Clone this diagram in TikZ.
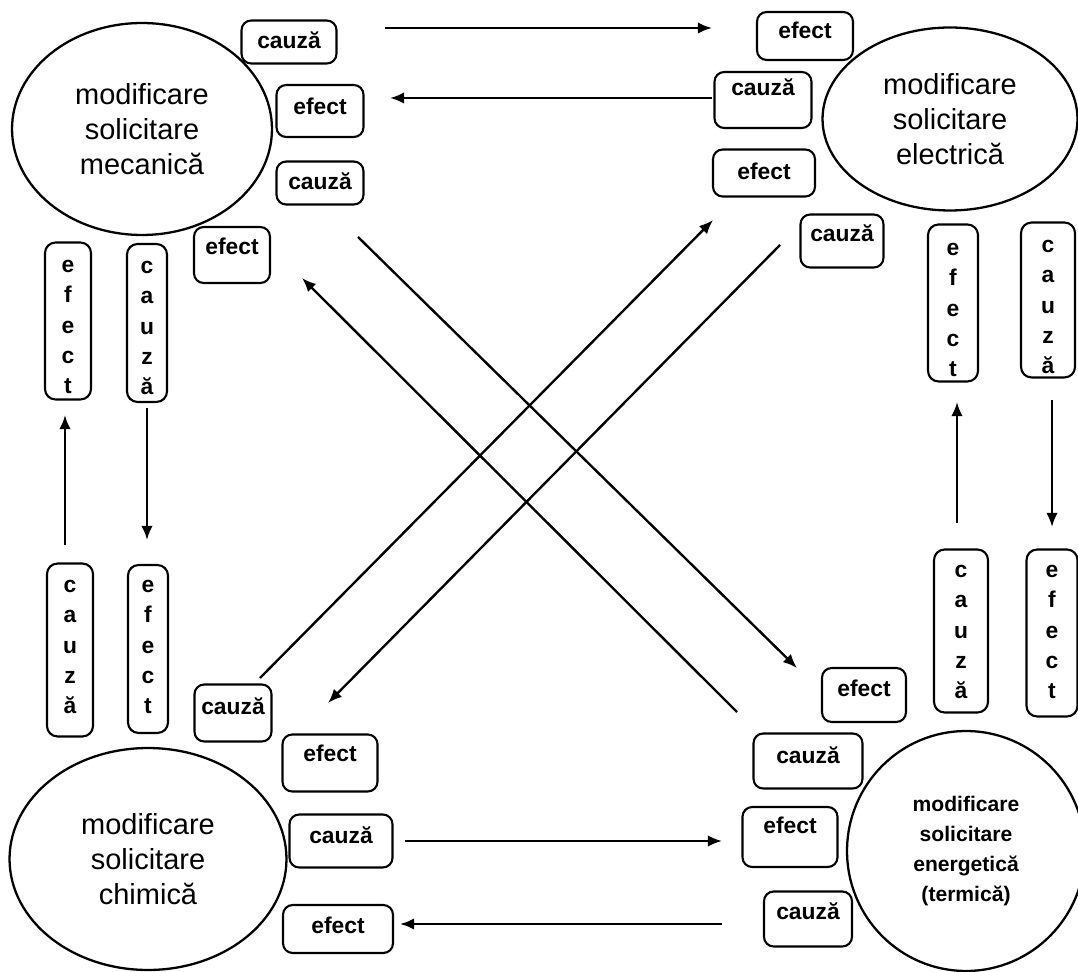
\documentclass[tikz,border=0pt]{standalone}
\usepackage{fontspec}
\setmainfont{Liberation Sans}
\usetikzlibrary{shapes.geometric,arrows.meta}
% type sizes
\newcommand\ellfont{\fontsize{16.5}{19.8}\selectfont}
\newcommand\thermfont{\bfseries\fontsize{12}{17}\selectfont}
\newcommand\tagfont{\bfseries\fontsize{13}{15}\selectfont}
\newcommand\vertfont{\bfseries\fontsize{13}{17.3}\selectfont}
\begin{document}
\begin{tikzpicture}[x=0.02cm,y=-0.02cm,
  zone/.style={draw, ellipse, line width=1.3pt, inner sep=0pt, align=center, font=\ellfont},
  tag/.style={draw, rounded corners=5.5pt, line width=1.2pt, inner sep=0pt,
              font=\tagfont, text height=9pt, text depth=2pt},
  lift/.style={text depth=#1},
  vtag/.style={draw, rounded corners=6pt, line width=1.2pt, inner sep=0pt},
  vword/.style={font=\vertfont, align=center, inner sep=0pt},
  link/.style={line width=1.35pt, -{Latex[length=8pt,width=6.5pt]}},
]
\useasboundingbox (0,0) rectangle (1078,972);
\clip (0,0) rectangle (1078,972);

% the four kinds of change
\node[zone, minimum width=5.2cm,  minimum height=4.24cm] (mech)  at (142,129) {modificare\\solicitare\\mecanică};
\node[zone, minimum width=5.1cm,  minimum height=3.66cm] (elec)  at (950,119) {modificare\\solicitare\\electrică};
\node[zone, minimum width=5.54cm, minimum height=4.44cm] (chem)  at (148,859) {modificare\\solicitare\\chimică};
\node[zone, font=\thermfont, minimum width=4.76cm, minimum height=4.8cm] (therm) at (966,851) {modificare\\solicitare\\energetică\\(termică)};

% cause / effect tags, upper left
\node[tag, minimum width=1.9cm,  minimum height=0.86cm] (b1) at (289,42) {cauză};
\node[tag, lift=5.4pt, minimum width=1.74cm, minimum height=1.04cm] (b2) at (320,111) {efect};
\node[tag, minimum width=1.74cm, minimum height=0.86cm] (b3) at (320,183) {cauză};
\node[tag, lift=9.9pt, minimum width=1.52cm, minimum height=1.12cm] (b4) at (232,255) {efect};
% upper right
\node[tag, lift=6.5pt,  minimum width=1.92cm, minimum height=0.96cm] (b5) at (805,36) {efect};
\node[tag, lift=14pt,   minimum width=1.94cm, minimum height=1.12cm] (b6) at (763,100) {cauză};
\node[tag, minimum width=2.04cm, minimum height=0.94cm] (b7) at (764,173) {efect};
\node[tag, lift=8.8pt,  minimum width=1.66cm, minimum height=1.06cm] (b8) at (842,241) {cauză};
% lower left
\node[tag, lift=7.7pt,  minimum width=1.54cm, minimum height=1.14cm] (b9)  at (233,713) {cauză};
\node[tag, lift=11.1pt, minimum width=1.9cm,  minimum height=1.14cm] (b10) at (330,763) {efect};
\node[tag, lift=6.5pt,  minimum width=2.06cm, minimum height=1.06cm] (b11) at (341,841) {cauză};
\node[tag, lift=4.3pt,  minimum width=2.2cm,  minimum height=0.96cm] (b12) at (338,929) {efect};
% lower right
\node[tag, lift=7.7pt,  minimum width=1.68cm, minimum height=1.08cm] (b13) at (864,695) {efect};
\node[tag, lift=6.5pt,  minimum width=2.18cm, minimum height=1.1cm]  (b14) at (808,761) {cauză};
\node[tag, lift=13.3pt, minimum width=1.9cm,  minimum height=1.2cm]  (b15) at (790,837) {efect};
\node[tag, lift=8.8pt,  minimum width=1.76cm, minimum height=1.1cm]  (b16) at (808,919) {cauză};

% upright tags
\node[vtag, minimum width=0.92cm, minimum height=3.14cm] (v1) at (68,321) {};
\node[vword] (v1w) at (68,327) {e\\f\\e\\c\\t};
\node[vtag, minimum width=0.8cm, minimum height=3.16cm] (v2) at (147,323) {};
\node[vword] (v2w) at (147,328) {c\\a\\u\\z\\ă};
\node[vtag, minimum width=0.92cm, minimum height=3.46cm] (v3) at (70,650) {};
\node[vword] (v3w) at (70,647) {c\\a\\u\\z\\ă};
\node[vtag, minimum width=0.8cm, minimum height=3.36cm] (v4) at (148,649) {};
\node[vword] (v4w) at (148,647) {e\\f\\e\\c\\t};
\node[vtag, minimum width=1.0cm, minimum height=3.14cm] (v5) at (953,303) {};
\node[vword] (v5w) at (953,310) {e\\f\\e\\c\\t};
\node[vtag, minimum width=1.08cm, minimum height=3.1cm] (v6) at (1048,300) {};
\node[vword] (v6w) at (1048,307) {c\\a\\u\\z\\ă};
\node[vtag, minimum width=1.08cm, minimum height=3.26cm] (v7) at (961,631) {};
\node[vword] (v7w) at (961,632) {c\\a\\u\\z\\ă};
\node[vtag, minimum width=1.02cm, minimum height=3.34cm] (v8) at (1052,633) {};
\node[vword] (v8w) at (1052,632) {e\\f\\e\\c\\t};

% arrow ends
\coordinate (t1) at (385,28);   \coordinate (t2) at (712,28);
\coordinate (t3) at (712,98);   \coordinate (t4) at (390,98);
\coordinate (d1) at (260,678);  \coordinate (d2) at (713,220);
\coordinate (d3) at (780,245);  \coordinate (d4) at (328,703);
\coordinate (d5) at (358,237);  \coordinate (d6) at (797,668);
\coordinate (d7) at (737,712);  \coordinate (d8) at (302,278);
\coordinate (l1) at (65,545);   \coordinate (l2) at (65,415);
\coordinate (l3) at (147,408);  \coordinate (l4) at (147,540);
\coordinate (r1) at (957,523);  \coordinate (r2) at (957,402);
\coordinate (r3) at (1052,400); \coordinate (r4) at (1052,527);
\coordinate (u1) at (405,841);  \coordinate (u2) at (722,841);
\coordinate (u3) at (722,924);  \coordinate (u4) at (400,924);

% connectors
\draw[link] (t1) -- (t2);
\draw[link] (t3) -- (t4);
\draw[link] (d1) -- (d2);
\draw[link] (d3) -- (d4);
\draw[link] (d5) -- (d6);
\draw[link] (d7) -- (d8);
\draw[link] (l1) -- (l2);
\draw[link] (l3) -- (l4);
\draw[link] (r1) -- (r2);
\draw[link] (r3) -- (r4);
\draw[link] (u1) -- (u2);
\draw[link] (u3) -- (u4);
\end{tikzpicture}
\end{document}
